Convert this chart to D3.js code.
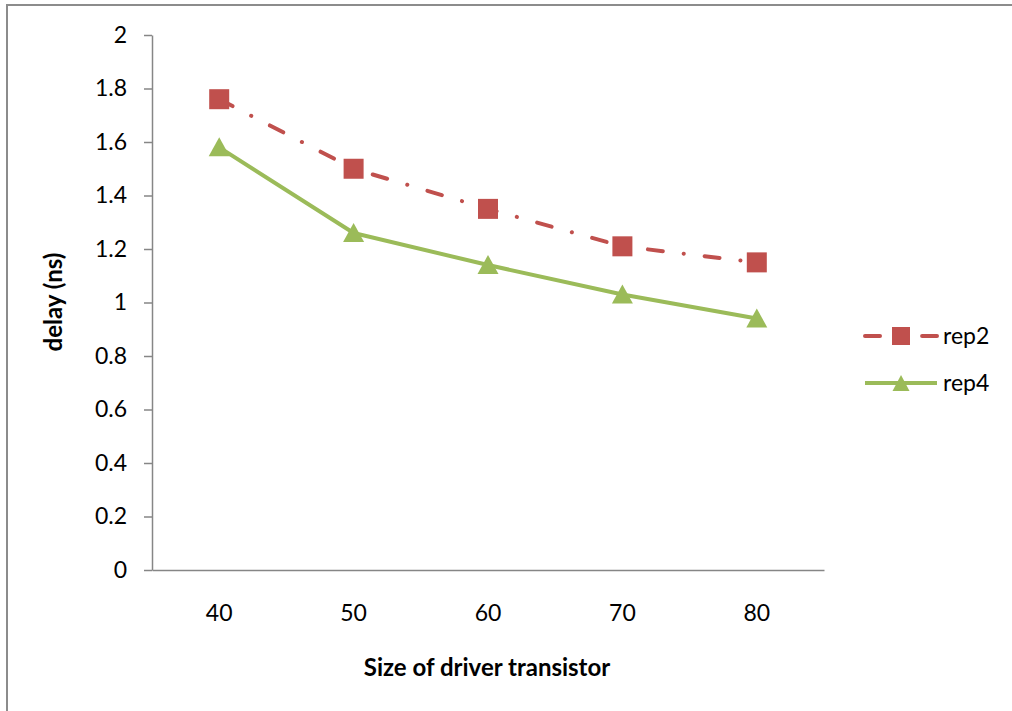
<!DOCTYPE html>
<html>
<head>
<meta charset="utf-8">
<script src="https://cdn.jsdelivr.net/npm/d3@7"></script>
<style>
  body { margin: 0; background: #fff; }
  text { font-family: Lato, "Open Sans", sans-serif; fill: #000; }
</style>
</head>
<body>
<svg id="chart" width="1012" height="711"></svg>
<script>
// Delay vs. driver transistor size for two repeater configurations
const sizes = ["40", "50", "60", "70", "80"];
const rep2 = [1.76, 1.50, 1.35, 1.21, 1.15];
const rep4 = [1.58, 1.26, 1.14, 1.03, 0.94];
const yTicks = [0, 0.2, 0.4, 0.6, 0.8, 1, 1.2, 1.4, 1.6, 1.8, 2];
const seriesNames = ["rep2", "rep4"];

const RED = "#C0504D", GREEN = "#9BBB59", AXIS = "#868686";
const svg = d3.select("#chart");

// outer chart frame
svg.append("rect")
  .attr("x", 7).attr("y", 5).attr("width", 1020).attr("height", 720)
  .attr("fill", "none").attr("stroke", "#8c8c8c").attr("stroke-width", 2);

const x = d3.scaleBand().domain(sizes).range([152, 824]);
const cx = d => x(d) + x.bandwidth() / 2;
const y = d3.scaleLinear().domain([0, 2]).range([570, 35]);

// y axis
const gy = svg.append("g").attr("transform", "translate(152,0)")
  .call(d3.axisLeft(y).tickValues(yTicks).tickSize(8).tickSizeOuter(0).tickPadding(17)
    .tickFormat(d => String(+d.toFixed(1))));
gy.selectAll("text").style("font-size", "23px").attr("font-family", "Lato");
gy.selectAll("line, path").attr("stroke", AXIS).attr("stroke-width", 1.5);

// x axis
const gx = svg.append("g").attr("transform", "translate(0,570)")
  .call(d3.axisBottom(x).tickSize(0).tickSizeOuter(0).tickPadding(35));
gx.selectAll("text").style("font-size", "23px");
gx.selectAll("path").attr("stroke", AXIS).attr("stroke-width", 1.5);

// axis titles
svg.append("text")
  .attr("transform", "translate(62,302) rotate(-90)")
  .attr("text-anchor", "middle")
  .style("font-size", "24px").style("font-weight", "bold")
  .text("delay (ns)");
svg.append("text")
  .attr("x", 487).attr("y", 676)
  .attr("text-anchor", "middle")
  .style("font-size", "24px").style("font-weight", "bold")
  .text("Size of driver transistor");

const line = d3.line().x(d => cx(d.s)).y(d => y(d.v));
const pts = arr => sizes.map((s, i) => ({ s, v: arr[i] }));
const DASHDOT = "15,21,0.1,21";

// rep2: dash-dot line with square markers
svg.append("path").datum(pts(rep2)).attr("d", line)
  .attr("fill", "none").attr("stroke", RED).attr("stroke-width", 4)
  .attr("stroke-linecap", "round").attr("stroke-linejoin", "round")
  .attr("stroke-dasharray", DASHDOT);
svg.selectAll(".sq").data(pts(rep2)).enter().append("rect")
  .attr("x", d => cx(d.s) - 10).attr("y", d => y(d.v) - 10)
  .attr("width", 20).attr("height", 20).attr("fill", RED);

// rep4: solid line with triangle markers
const tri = "M0,-10L10.5,9L-10.5,9Z";
svg.append("path").datum(pts(rep4)).attr("d", line)
  .attr("fill", "none").attr("stroke", GREEN).attr("stroke-width", 4)
  .attr("stroke-linejoin", "round");
svg.selectAll(".tr").data(pts(rep4)).enter().append("path")
  .attr("d", tri)
  .attr("transform", d => `translate(${cx(d.s)},${y(d.v)})`)
  .attr("fill", GREEN);

// legend
const lg = svg.append("g");
const legendY = [336, 383];
lg.append("line").attr("x1", 865).attr("x2", 937).attr("y1", legendY[0]).attr("y2", legendY[0])
  .attr("stroke", RED).attr("stroke-width", 4).attr("stroke-linecap", "round")
  .attr("stroke-dasharray", DASHDOT);
lg.append("rect").attr("x", 892).attr("y", legendY[0] - 9).attr("width", 18).attr("height", 18)
  .attr("fill", RED);
lg.append("line").attr("x1", 865).attr("x2", 937).attr("y1", legendY[1]).attr("y2", legendY[1])
  .attr("stroke", GREEN).attr("stroke-width", 4);
lg.append("path").attr("d", "M0,-8L8.5,8L-8.5,8Z")
  .attr("transform", `translate(901,${legendY[1]})`).attr("fill", GREEN);
lg.selectAll(".lt").data(seriesNames).enter().append("text")
  .attr("x", 943).attr("y", (d, i) => legendY[i]).attr("dy", "0.35em")
  .style("font-size", "23px").text(d => d);
</script>
</body>
</html>
